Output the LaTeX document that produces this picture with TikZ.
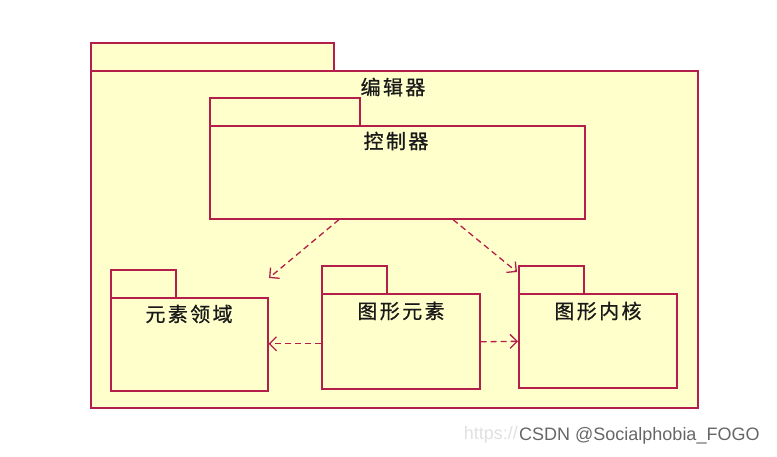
\documentclass[tikz,border=0pt]{standalone}
\usepackage{fontspec}
\newfontfamily\cjk[FakeBold=0.8,AutoFakeBold=0.8,LetterSpace=12]{Noto Sans CJK SC}
\newfontfamily\wmfont{Liberation Sans}
\usetikzlibrary{arrows.meta,calc}
\definecolor{pkgfill}{RGB}{255,255,204}
\definecolor{pkgline}{RGB}{180,30,75}
\begin{document}
\begin{tikzpicture}[x=1pt,y=-1pt,
  pkg/.style={draw=pkgline,fill=pkgfill,line width=1.6pt,inner sep=0pt,anchor=north west},
  lbl/.style={font=\cjk\fontsize{20}{22}\selectfont\bfseries,inner sep=0pt,text=black!90},
  dep/.style={draw=pkgline,line width=1.3pt,dash pattern=on 6pt off 4pt,-{Straight Barb[length=7pt,width=14pt]}}]
\useasboundingbox (0,0) rectangle (777,457);
% outer package
\node[pkg,minimum width=243,minimum height=28] (edtab) at (90,42) {};
\node[pkg,minimum width=607,minimum height=337] (ed) at (90,70) {};
\node[lbl] (edl) at (393,87) {编辑器};
% controller
\node[pkg,minimum width=150,minimum height=28] (cttab) at (209,97) {};
\node[pkg,minimum width=375,minimum height=93] (ct) at (209,125) {};
\node[lbl] (ctl) at (396,141) {控制器};
% element domain
\node[pkg,minimum width=65,minimum height=28] (edmtab) at (110,269) {};
\node[pkg,minimum width=157,minimum height=93] (edm) at (110,297) {};
\node[lbl] (edml) at (189,314) {元素领域};
% graphic element
\node[pkg,minimum width=65,minimum height=28] (getab) at (321,265) {};
\node[pkg,minimum width=158,minimum height=95] (ge) at (321,293) {};
\node[lbl] (gel) at (401,311) {图形元素};
% graphic kernel
\node[pkg,minimum width=65,minimum height=28] (gktab) at (518,265) {};
\node[pkg,minimum width=158,minimum height=94] (gk) at (518,293) {};
\node[lbl] (gkl) at (598,311) {图形内核};
% dependencies
\coordinate (e1) at (269,278);
\draw[dep] ($(ct.south west)+(130,0)$) -- (e1);
\draw[dep] ($(ct.south west)+(244,0)$) -- ($(gktab.north west)+(-1,7)$);
\draw[dep] ($(ge.west)+(0,2.5)$) -- ($(edm.east)+(0,-0.5)$);
\draw[dep] ($(ge.east)+(0,0.5)$) -- ($(gk.west)+(0,0.5)$);
% watermark
\node[font=\wmfont\fontsize{18}{20}\selectfont,text=black!12,anchor=east,inner sep=0pt] (wm1) at (518,435) {https://};
\node[font=\wmfont\fontsize{18}{20}\selectfont,text=black!60,anchor=west,inner sep=0pt] (wm2) at (519,436) {CSDN @Socialphobia\_FOGO};
\end{tikzpicture}
\end{document}
